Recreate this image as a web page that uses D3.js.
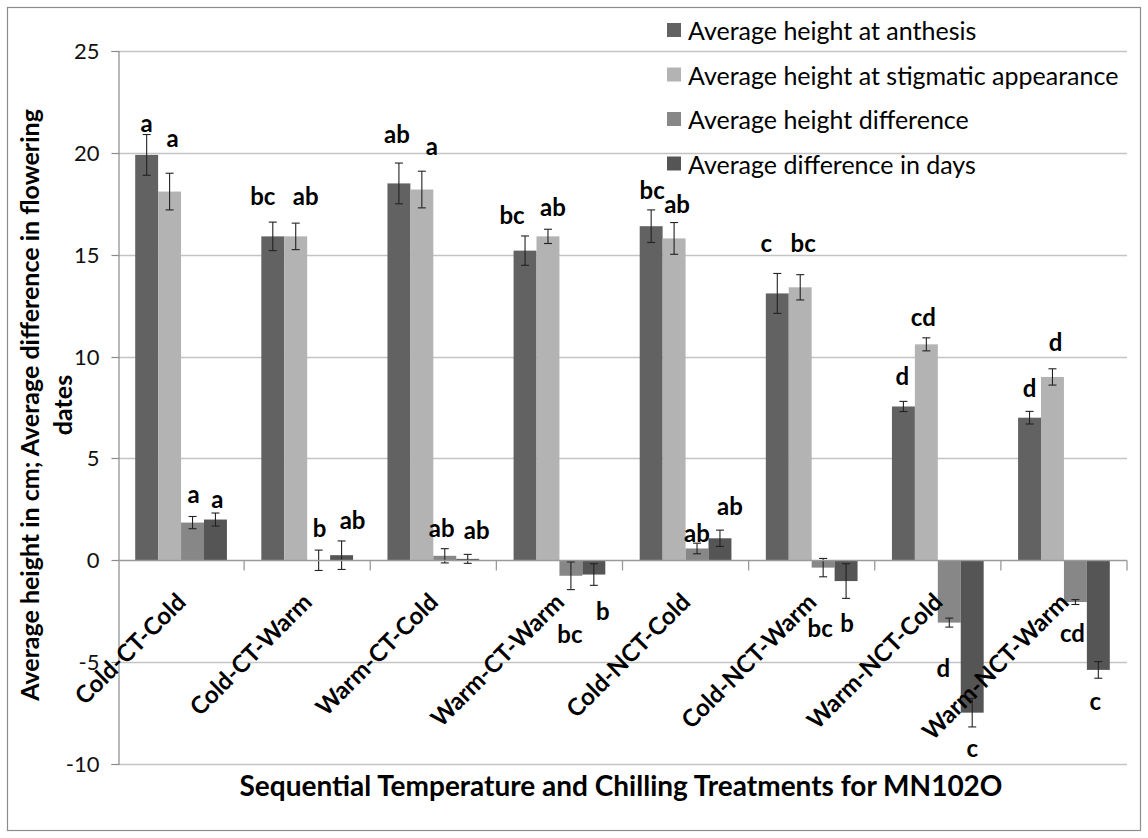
<!DOCTYPE html>
<html>
<head>
<meta charset="utf-8">
<script src="https://cdn.jsdelivr.net/npm/d3@7"></script>
<style>
  html, body { margin: 0; padding: 0; background: #fff; }
  svg { display: block; }
  text { font-family: Lato, "Open Sans", sans-serif; }
</style>
</head>
<body>
<svg id="chart" width="1148" height="838"></svg>
<script>
// Treatments (x categories)
const categories = ["Cold-CT-Cold", "Cold-CT-Warm", "Warm-CT-Cold", "Warm-CT-Warm",
                    "Cold-NCT-Cold", "Cold-NCT-Warm", "Warm-NCT-Cold", "Warm-NCT-Warm"];

// Series names
const seriesNames = ["Average height at anthesis", "Average height at stigmatic appearance",
                     "Average height difference", "Average difference in days"];

// Means
const anthesis   = [19.9, 15.9, 18.5, 15.2, 16.4, 13.1, 7.55, 7.0];
const stigmatic  = [18.1, 15.9, 18.2, 15.9, 15.8, 13.4, 10.6, 9.0];
const heightDiff = [1.85, 0.0, 0.22, -0.76, 0.58, -0.36, -3.06, -2.05];
const dayDiff    = [2.0, 0.25, 0.07, -0.7, 1.08, -1.02, -7.48, -5.38];

// Standard errors
const anthesisErr   = [1.0, 0.7, 1.0, 0.72, 0.8, 0.98, 0.25, 0.31];
const stigmaticErr  = [0.9, 0.65, 0.9, 0.35, 0.78, 0.62, 0.32, 0.4];
const heightDiffErr = [0.3, 0.5, 0.35, 0.68, 0.26, 0.45, 0.22, 0.12];
const dayDiffErr    = [0.32, 0.7, 0.22, 0.53, 0.4, 0.85, 0.7, 0.41];

// Mean separation letters
const anthesisLetters   = ["a", "bc", "ab", "bc", "bc", "c", "d", "d"];
const stigmaticLetters  = ["a", "ab", "a", "ab", "ab", "bc", "cd", "d"];
const heightDiffLetters = ["a", "b", "ab", "bc", "ab", "bc", "d", "cd"];
const dayDiffLetters    = ["a", "ab", "ab", "b", "ab", "b", "c", "c"];

// Y axis ticks
const yTicks = [-10, -5, 0, 5, 10, 15, 20, 25];

// ---- layout and styling ----
const colors = ["#626262", "#b3b3b3", "#878787", "#555555"];
// hand placement of the letters, [dx, dy] in px from the default spot above/below each error bar
const letterNudge = [
  [[0, 2], [-10, -13], [-2, -16], [-13, -7], [1, -6], [-11, -17], [-1, -12], [0, -10]],
  [[3, -22], [10, -14], [10, -12], [5, -9], [3, -5], [3, -18], [-3, -7], [3, -13]],
  [[1, -9], [1, -9], [-3, -7], [-1, 30], [0, 3], [-3, 37], [-6, 26], [-3, 14]],
  [[2, -1], [11, -7], [9, -11], [9, 11], [10, -11], [1, 10], [0, 7], [-3, 8]]
];

const values = [anthesis, stigmatic, heightDiff, dayDiff];
const errors = [anthesisErr, stigmaticErr, heightDiffErr, dayDiffErr];
const letters = [anthesisLetters, stigmaticLetters, heightDiffLetters, dayDiffLetters];

const plot = { left: 118, right: 1127, top: 51, bottom: 764 };
const svg = d3.select("#chart");

// outer frame
svg.append("rect").attr("x", 7.5).attr("y", 7.5).attr("width", 1133).attr("height", 823)
  .attr("fill", "#fff").attr("stroke", "#8c8c8c").attr("stroke-width", 1.2);

const x0 = d3.scaleBand().domain(categories).range([plot.left, plot.right]).paddingInner(0).paddingOuter(0);
const step = x0.bandwidth();
// bars occupy 4/5.5 of each category slot, centred
const x1 = d3.scaleBand().domain(d3.range(4))
  .range([step * 0.75 / 5.5, step - step * 0.75 / 5.5]).paddingInner(0).paddingOuter(0);
const y = d3.scaleLinear().domain([-10, 25]).range([plot.bottom, plot.top]);

// gridlines
svg.append("g").selectAll("line").data(yTicks.filter(t => t !== 0)).join("line")
  .attr("x1", plot.left).attr("x2", plot.right)
  .attr("y1", d => Math.round(y(d)) + 0.5).attr("y2", d => Math.round(y(d)) + 0.5)
  .attr("stroke", "#c4c4c4").attr("stroke-width", 1.3);

// y axis
const yAxis = svg.append("g").attr("transform", `translate(${plot.left + 0.5},0)`)
  .call(d3.axisLeft(y).tickValues(yTicks).tickSize(7).tickPadding(12).tickFormat(d => String(d)));
yAxis.select(".domain").attr("stroke", "#8a8a8a").attr("stroke-width", 1.2);
yAxis.selectAll(".tick line").attr("stroke", "#8a8a8a").attr("stroke-width", 1.2);
yAxis.selectAll(".tick text").attr("font-size", 22).attr("fill", "#111")
  .attr("font-family", "Lato, sans-serif");
yAxis.selectAll(".tick")
  .attr("transform", d => `translate(0,${Math.round(y(d)) + 0.5})`);

// bars
const groups = svg.append("g").selectAll("g").data(categories).join("g")
  .attr("transform", d => `translate(${x0(d)},0)`);

for (let s = 0; s < 4; s++) {
  groups.append("rect")
    .attr("x", x1(s))
    .attr("width", x1.bandwidth())
    .attr("y", (d, i) => y(Math.max(0, values[s][i])))
    .attr("height", (d, i) => Math.abs(y(values[s][i]) - y(0)))
    .attr("fill", colors[s]);
}

// zero line with category ticks
const zy = Math.round(y(0)) + 0.5;
svg.append("line").attr("x1", plot.left).attr("x2", plot.right).attr("y1", zy).attr("y2", zy)
  .attr("stroke", "#9a9a9a").attr("stroke-width", 1.3);
svg.append("g").selectAll("line").data(categories.slice(1).concat(["end"])).join("line")
  .attr("x1", d => d === "end" ? plot.right : x0(d)).attr("x2", d => d === "end" ? plot.right : x0(d))
  .attr("y1", zy).attr("y2", zy + 10)
  .attr("stroke", "#9a9a9a").attr("stroke-width", 1.3);

// error bars
for (let s = 0; s < 4; s++) {
  const eb = groups.append("g").attr("stroke", "#222").attr("stroke-width", 1.1);
  const cx = x1(s) + x1.bandwidth() / 2;
  eb.append("line").attr("x1", cx).attr("x2", cx)
    .attr("y1", (d, i) => y(values[s][i] + errors[s][i]))
    .attr("y2", (d, i) => y(values[s][i] - errors[s][i]));
  eb.append("line").attr("x1", cx - 4).attr("x2", cx + 4)
    .attr("y1", (d, i) => y(values[s][i] + errors[s][i]))
    .attr("y2", (d, i) => y(values[s][i] + errors[s][i]));
  eb.append("line").attr("x1", cx - 4).attr("x2", cx + 4)
    .attr("y1", (d, i) => y(values[s][i] - errors[s][i]))
    .attr("y2", (d, i) => y(values[s][i] - errors[s][i]));
}

// significance letters
for (let s = 0; s < 4; s++) {
  const cx = x1(s) + x1.bandwidth() / 2;
  groups.append("text")
    .attr("x", (d, i) => cx + letterNudge[s][i][0])
    .attr("y", (d, i) => {
      const v = values[s][i], e = errors[s][i];
      const base = v >= 0 ? y(v + e) - 14 : y(v - e) + 14;
      return base + letterNudge[s][i][1];
    })
    .attr("text-anchor", "middle").attr("dominant-baseline", "central")
    .attr("font-size", 24).attr("font-weight", "bold").attr("fill", "#000")
    .text((d, i) => letters[s][i]);
}

// category labels
svg.append("g").selectAll("text").data(categories).join("text")
  .attr("transform", d => `translate(${x0(d) + step / 2 - 6},${zy + 31}) rotate(-45)`)
  .attr("text-anchor", "end").attr("dy", "0.72em")
  .attr("font-size", 24).attr("font-weight", "bold").attr("fill", "#000")
  .text(d => d);

// axis titles
svg.append("text").attr("x", 621).attr("y", 796).attr("text-anchor", "middle")
  .attr("font-size", 28).attr("font-weight", "bold").attr("fill", "#000")
  .text("Sequential Temperature and Chilling Treatments for MN102O");

const yt = svg.append("text").attr("transform", "translate(0,405) rotate(-90)")
  .attr("text-anchor", "middle").attr("font-size", 25).attr("font-weight", "bold").attr("fill", "#000");
yt.append("tspan").attr("x", 0).attr("y", 39).text("Average height in cm; Average difference in flowering");
yt.append("tspan").attr("x", 0).attr("y", 72).text("dates");

// legend
const legend = svg.append("g").selectAll("g").data(seriesNames).join("g")
  .attr("transform", (d, i) => `translate(667,${30 + i * 44.5})`);
legend.append("rect").attr("x", 0).attr("y", -7).attr("width", 14).attr("height", 14)
  .attr("fill", (d, i) => colors[i]);
legend.append("text").attr("x", 21).attr("y", 0).attr("dominant-baseline", "central")
  .attr("font-size", 25).attr("fill", "#000").text(d => d);
</script>
</body>
</html>
